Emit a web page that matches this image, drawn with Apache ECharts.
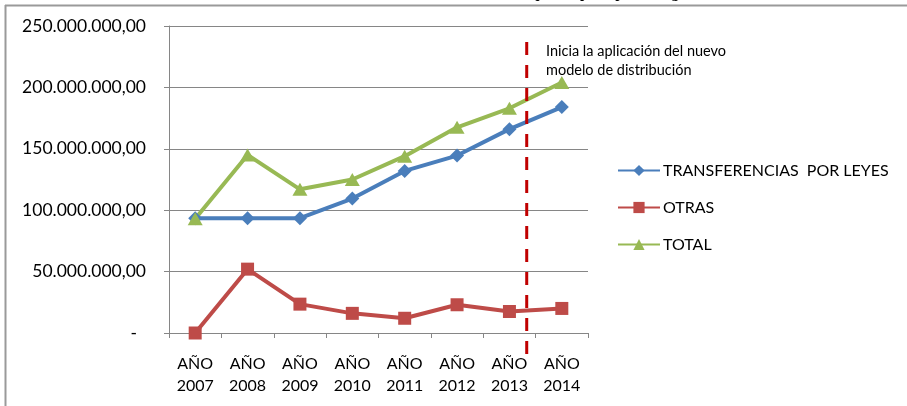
<!DOCTYPE html>
<html>
<head>
<meta charset="utf-8">
<script src="https://cdn.jsdelivr.net/npm/echarts@6/dist/echarts.min.js"></script>
<style>
  html, body { margin: 0; padding: 0; background: #fff; }
  #chart { width: 907px; height: 406px; }
</style>
</head>
<body>
<div id="chart"></div>
<script>
// Categories (years)
const years = ['AÑO\n2007', 'AÑO\n2008', 'AÑO\n2009', 'AÑO\n2010', 'AÑO\n2011', 'AÑO\n2012', 'AÑO\n2013', 'AÑO\n2014'];

// Series values (USD)
const transferenciasPorLeyes = [93500000, 93500000, 93500000, 109500000, 132000000, 144500000, 166000000, 184000000];
const otras = [0, 52000000, 23500000, 16000000, 12000000, 23000000, 17500000, 20000000];
const total = [93000000, 145000000, 117000000, 125000000, 144000000, 167500000, 183000000, 204000000];

// Y axis ticks
const yTicks = [0, 50000000, 100000000, 150000000, 200000000, 250000000];

// Position (in category units) where the new distribution model starts
const inicioModelo = 6.33;

const FONT = 'Lato, "Liberation Sans", sans-serif';
const AXIS_GREY = '#868686';

function fmtMoney(v) {
  if (v === 0) return '-  ';
  const s = Math.round(v).toString().replace(/\B(?=(\d{3})+(?!\d))/g, '.');
  return s + ',00';
}

const chart = echarts.init(document.getElementById('chart'), null, { renderer: 'canvas' });

const option = {
  backgroundColor: '#ffffff',
  animation: false,
  grid: { left: 169, right: 319, top: 26, bottom: 73, containLabel: false },
  legend: {
    orient: 'vertical',
    left: 617,
    top: 162.5,
    padding: 0,
    itemWidth: 42,
    itemHeight: 14,
    itemGap: 21,
    textStyle: { fontFamily: FONT, fontSize: 16, color: '#000', padding: [0, 0, 0, -2] },
    data: ['TRANSFERENCIAS  POR LEYES', 'OTRAS', 'TOTAL']
  },
  xAxis: {
    type: 'category',
    data: years,
    boundaryGap: true,
    axisLine: { lineStyle: { color: AXIS_GREY, width: 1 } },
    axisTick: { show: true, length: 5, inside: false, alignWithLabel: false, lineStyle: { color: AXIS_GREY } },
    axisLabel: { fontFamily: FONT, fontSize: 16, color: '#000', margin: 20, lineHeight: 22, interval: 0 },
    splitLine: { show: false }
  },
  yAxis: {
    type: 'value',
    min: yTicks[0],
    max: yTicks[yTicks.length - 1],
    interval: yTicks[1] - yTicks[0],
    axisLine: { show: true, lineStyle: { color: AXIS_GREY, width: 1 } },
    axisTick: { show: true, length: 5, lineStyle: { color: AXIS_GREY } },
    axisLabel: { fontFamily: FONT, fontSize: 17.5, color: '#000', margin: 23, formatter: fmtMoney },
    splitLine: { show: true, lineStyle: { color: AXIS_GREY, width: 1 } }
  },
  series: [
    {
      name: 'TRANSFERENCIAS  POR LEYES',
      type: 'line',
      data: transferenciasPorLeyes,
      symbol: 'diamond',
      symbolSize: 14,
      lineStyle: { color: '#4A7EBB', width: 4 },
      itemStyle: { color: '#4A7EBB' },
      z: 3
    },
    {
      name: 'OTRAS',
      type: 'line',
      data: otras,
      symbol: 'rect',
      symbolSize: 13,
      lineStyle: { color: '#BE4B48', width: 4 },
      itemStyle: { color: '#BE4B48' },
      z: 3
    },
    {
      name: 'TOTAL',
      type: 'line',
      data: total,
      symbol: 'triangle',
      symbolSize: [15, 13],
      lineStyle: { color: '#98B954', width: 4 },
      itemStyle: { color: '#98B954' },
      z: 3
    }
  ]
};

chart.setOption(option);

// Annotation: dashed marker where the new model begins, plus its note and the frame
const c6 = chart.convertToPixel({ xAxisIndex: 0 }, 6);
const c7 = chart.convertToPixel({ xAxisIndex: 0 }, 7);
const xMark = c6 + (c7 - c6) * (inicioModelo - 6);

chart.setOption({
  graphic: [
    {
      type: 'text',
      left: 'center',
      top: -13,
      style: {
        text: 'Transferencias del Gobierno Central a los GAD Parroquiales por tipo de asignación',
        font: 'bold 15px "Liberation Serif", serif',
        fill: '#000'
      },
      z: 1
    },
    {
      type: 'line',
      shape: { x1: 5, y1: 5.5, x2: 907, y2: 5.5 },
      style: { stroke: '#9a9a9a', lineWidth: 2 },
      z: 10
    },
    {
      type: 'line',
      shape: { x1: 5.5, y1: 5, x2: 5.5, y2: 406 },
      style: { stroke: '#9a9a9a', lineWidth: 2 },
      z: 10
    },
    {
      type: 'line',
      shape: { x1: xMark, y1: 42, x2: xMark, y2: 358 },
      style: { stroke: '#C00000', lineWidth: 3, lineDash: [13, 10] },
      z: 20
    },
    {
      type: 'text',
      x: 546,
      y: 42,
      style: {
        text: 'Inicia la aplicación del nuevo\nmodelo de distribución',
        font: '14.5px Lato, "Liberation Sans", sans-serif',
        lineHeight: 19,
        fill: '#000'
      },
      z: 20
    }
  ]
});
</script>
</body>
</html>
